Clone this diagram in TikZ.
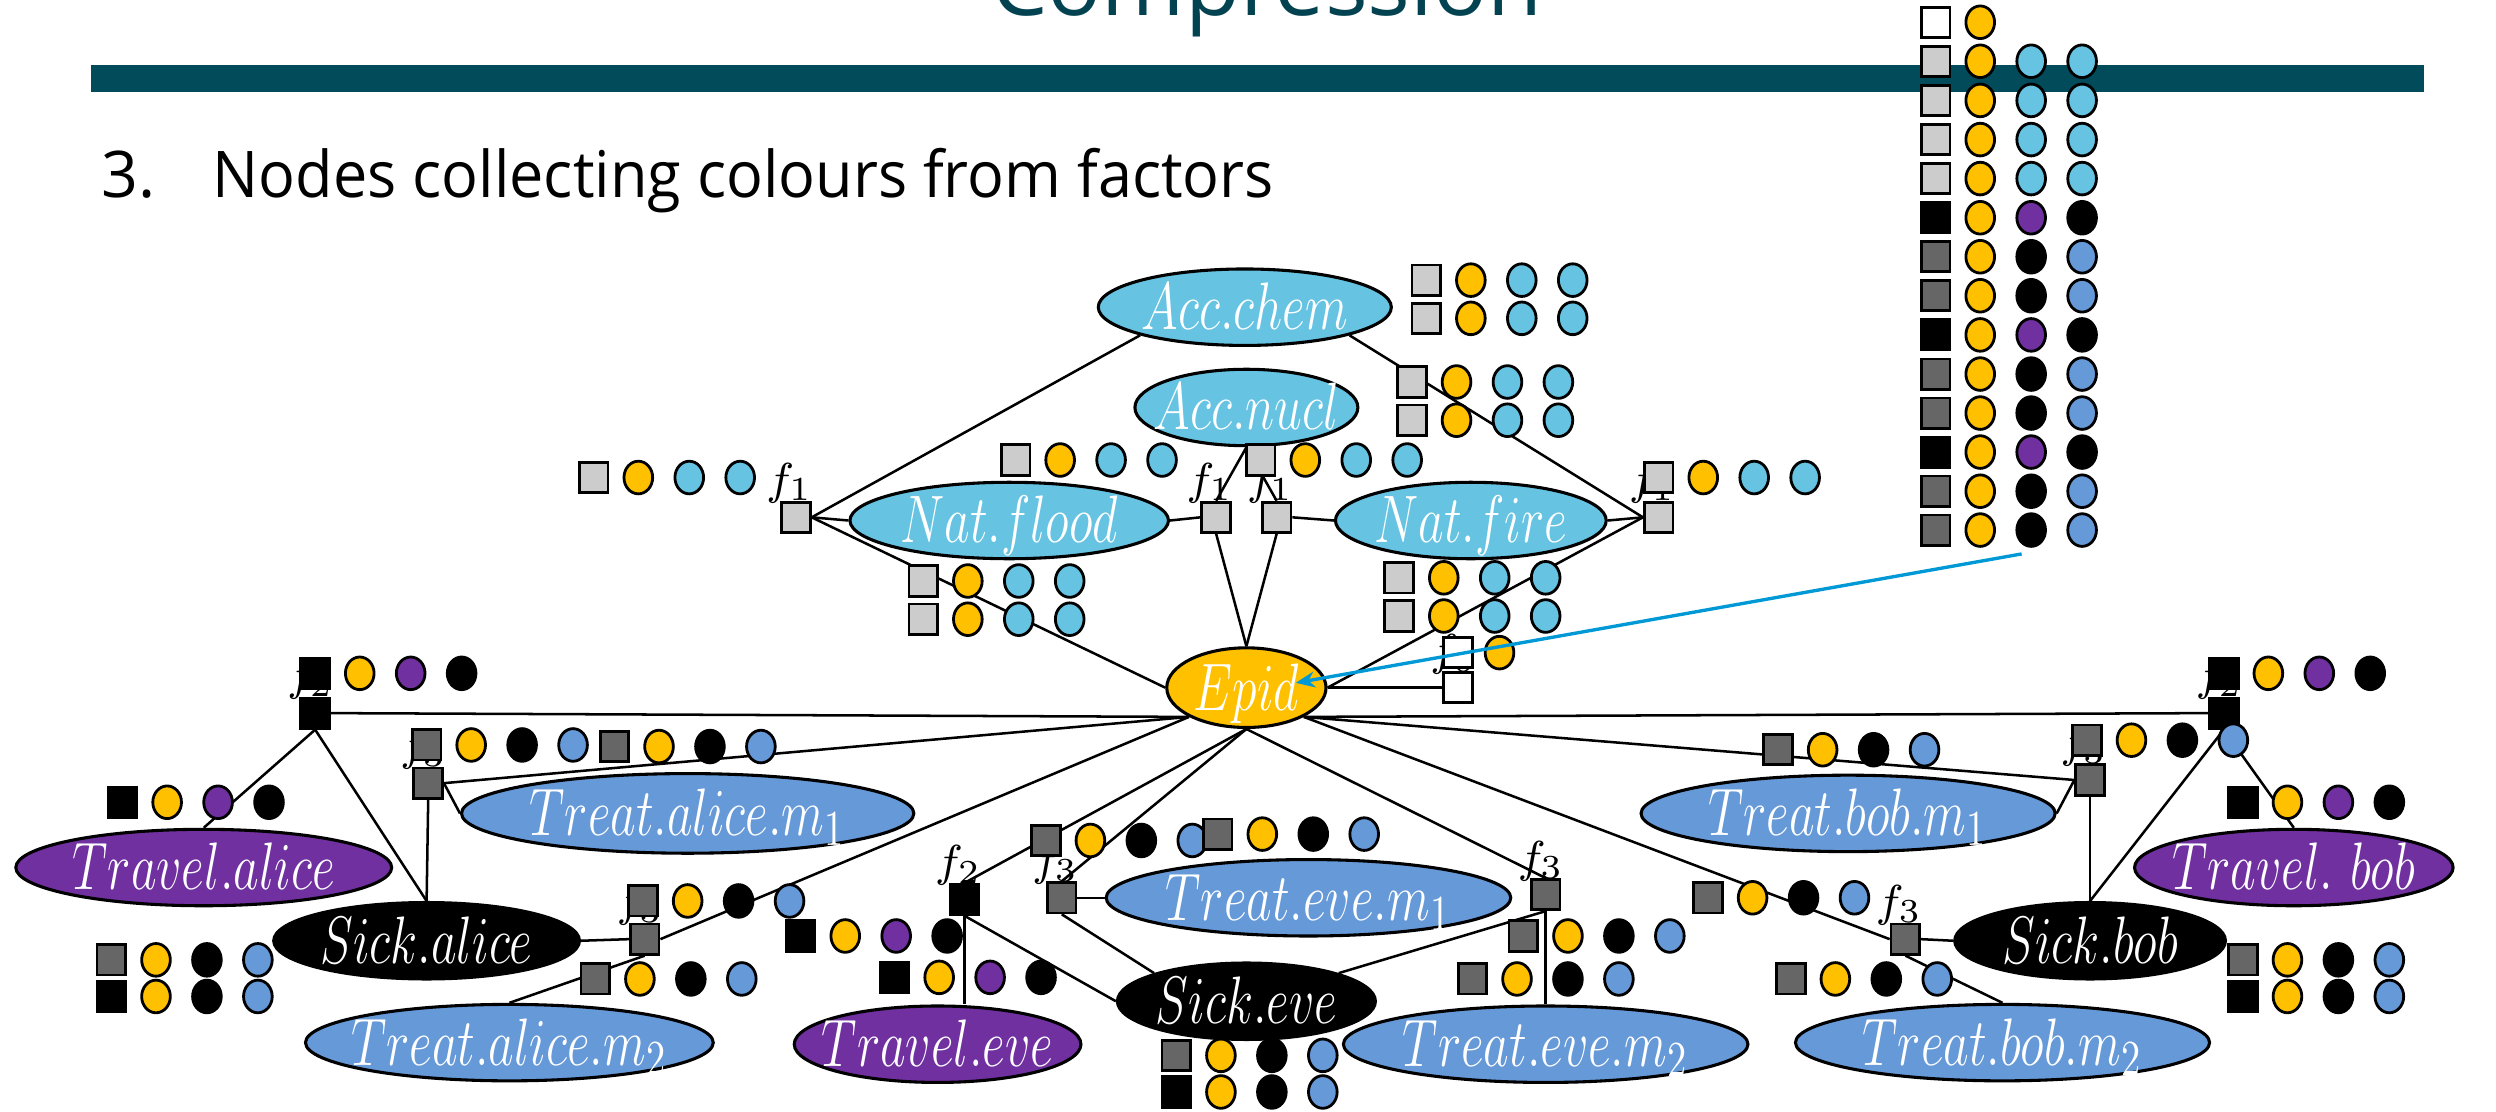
\documentclass[tikz,border=0pt]{standalone}
\usepackage{fontspec}
\setsansfont{Open Sans}
\usetikzlibrary{shapes.geometric,arrows.meta}

\definecolor{barteal}{RGB}{2,75,90}
\definecolor{titleteal}{RGB}{3,66,80}
\definecolor{clblue}{RGB}{102,195,226}
\definecolor{cgold}{RGB}{255,192,0}
\definecolor{cpurp}{RGB}{112,48,160}
\definecolor{cmblue}{RGB}{102,153,216}
\definecolor{clgray}{RGB}{204,204,204}
\definecolor{cdgray}{RGB}{102,102,102}
\definecolor{arrowblue}{RGB}{0,153,214}

% zero-size centred label text (tall, narrow italic), so the ellipse keeps its given size
\newcommand\ctext[1]{\makebox[0pt]{\smash{\raisebox{-0.32em}{\scalebox{0.74}[1]{$#1$}}}}}

% colour tokens: a square and circles, each a named node
\newcounter{tk}
\newcommand\tokq[3]{\stepcounter{tk}\node[tsq, fill=#3] (tk\arabic{tk}) at (#1,#2) {};}
\newcommand\tokc[3]{\stepcounter{tk}\node[tci, fill=#3] (tk\arabic{tk}) at (#1,#2) {};}
\newcommand\tokrow[6]{\tokq{#1}{#2}{#3}\tokc{#1+28}{#2}{#4}\tokc{#1+60}{#2}{#5}\tokc{#1+92}{#2}{#6}}

\tikzset{
  ell/.style={ellipse, draw=black, line width=0.55pt, inner sep=0pt, text=white,
    font=\fontsize{12.5}{14}\selectfont},
  fac/.style={draw=black, line width=0.5pt, minimum width=0.18cm, minimum height=0.19cm, inner sep=0pt},
  tsq/.style={draw=black, line width=0.5pt, minimum width=0.18cm, minimum height=0.19cm, inner sep=0pt},
  tci/.style={ellipse, draw=black, line width=0.5pt, minimum width=0.18cm, minimum height=0.205cm, inner sep=0pt},
  edge/.style={line width=0.45pt},
  flab/.style={anchor=south, inner sep=0pt, font=\fontsize{8}{9}\selectfont},
}

\begin{document}
\begin{tikzpicture}[x=0.01cm, y=-0.01cm]
\useasboundingbox (0,0) rectangle (1568,698);

% heading
\node[anchor=base west, inner sep=0pt, text=titleteal, font=\sffamily\fontsize{16}{19}\selectfont] (title) at (622,10) {Compression};
\fill[barteal] (57,41) rectangle (1523,58);
\node[anchor=base west, inner sep=0pt, font=\sffamily\fontsize{11.5}{14}\selectfont] (num) at (63,124) {3.};
\node[anchor=base west, inner sep=0pt, font=\sffamily\fontsize{11.5}{14}\selectfont] (sub) at (133,124) {\scalebox{0.95}[1]{Nodes collecting colours from factors}};

% variable nodes
\node[ell, fill=clblue, minimum width=1.84cm, minimum height=0.48cm] (acchem) at (782,193) {\ctext{Acc.chem}};
\node[ell, fill=clblue, minimum width=1.40cm, minimum height=0.48cm] (accnucl) at (783,256) {\ctext{Acc.nucl}};
\node[ell, fill=clblue, minimum width=2.00cm, minimum height=0.48cm] (natflood) at (634,327) {\ctext{Nat.flood}};
\node[ell, fill=clblue, minimum width=1.70cm, minimum height=0.48cm] (natfire) at (924,327) {\ctext{Nat.fire}};
\node[ell, fill=cgold, minimum width=1.00cm, minimum height=0.50cm] (epid) at (783,432) {\ctext{Epid}};

\node[ell, fill=cpurp, minimum width=2.36cm, minimum height=0.48cm] (travelalice) at (128,545) {\ctext{Travel.alice}};
\node[ell, fill=cmblue, minimum width=2.84cm, minimum height=0.50cm] (treatam1) at (432,511) {\ctext{Treat.alice.m_1}};
\node[ell, fill=black, minimum width=1.92cm, minimum height=0.48cm] (sickalice) at (268,591) {\ctext{Sick.alice}};
\node[ell, fill=cmblue, minimum width=2.56cm, minimum height=0.48cm] (treatam2) at (320,655) {\ctext{Treat.alice.m_2}};
\node[ell, fill=cpurp, minimum width=1.80cm, minimum height=0.48cm] (traveleve) at (589,656) {\ctext{Travel.eve}};
\node[ell, fill=black, minimum width=1.62cm, minimum height=0.48cm] (sickeve) at (783,629) {\ctext{Sick.eve}};
\node[ell, fill=cmblue, minimum width=2.54cm, minimum height=0.48cm] (treatem1) at (822,564) {\ctext{Treat.eve.m_1}};
\node[ell, fill=cmblue, minimum width=2.54cm, minimum height=0.48cm] (treatem2) at (971,656) {\ctext{Treat.eve.m_2}};
\node[ell, fill=cmblue, minimum width=2.60cm, minimum height=0.48cm] (treatbm1) at (1161,511) {\ctext{Treat.bob.m_1}};
\node[ell, fill=black, minimum width=1.70cm, minimum height=0.48cm] (sickbob) at (1313,591) {\ctext{Sick.bob}};
\node[ell, fill=cpurp, minimum width=2.00cm, minimum height=0.48cm] (travelbob) at (1441,545) {\ctext{Travel.\ bob}};
\node[ell, fill=cmblue, minimum width=2.60cm, minimum height=0.48cm] (treatbm2) at (1258,655) {\ctext{Treat.bob.m_2}};

% factor labels (drawn first, partly covered by tokens later)
\node[flab] (lf1a) at (496,317) {$f_1$};
\node[flab] (lf1b) at (760,317) {$f_1$};
\node[flab] (lf1c) at (798,317) {$f_1$};
\node[flab] (lf1d) at (1038,317) {$f_1$};
\node[flab] (lf0)  at (913,424) {$f_0$};
\node[flab] (lf2a) at (195,440) {$f_2$};
\node[flab] (lf3a) at (266,484) {$f_3$};
\node[flab] (lf3b) at (402,582) {$f_3$};
\node[flab] (lf2e) at (602,557) {$f_2$};
\node[flab] (lf3c) at (663,556) {$f_3$};
\node[flab] (lf3d) at (968,554) {$f_3$};
\node[flab] (lf3e) at (1309,482) {$f_3$};
\node[flab] (lf2b) at (1394,440) {$f_2$};
\node[flab] (lf3f) at (1193,582) {$f_3$};

% factor nodes
\node[fac, fill=clgray] (f1a) at (500,325) {};
\node[fac, fill=clgray] (f1b) at (764,325) {};
\node[fac, fill=clgray] (f1c) at (802,325) {};
\node[fac, fill=clgray] (f1d) at (1042,325) {};
\node[fac, fill=white]  (f0)  at (916,432) {};
\node[fac, fill=black]  (f2a) at (198,448) {};
\node[fac, fill=cdgray] (f3a) at (269,492) {};
\node[fac, fill=cdgray] (f3b) at (405,590) {};
\node[fac, fill=black]  (f2e) at (606,565) {};
\node[fac, fill=cdgray] (f3c) at (667,564) {};
\node[fac, fill=cdgray] (f3d) at (971,562) {};
\node[fac, fill=cdgray] (f3e) at (1313,490) {};
\node[fac, fill=black]  (f2b) at (1397,448) {};
\node[fac, fill=cdgray] (f3f) at (1197,590) {};

% factor-to-variable edges
\draw[edge] (f1a.east) -- (acchem.south west);
\draw[edge] (f1a.east) -- (natflood.west);
\draw[edge] (f1a.east) -- (epid.west);
\draw[edge] (f1b.west) -- (natflood.east);
\draw[edge] (f1b.north) -- (accnucl.south);
\draw[edge] (f1b.south) -- (epid.north);
\draw[edge] (f1c.north) -- (accnucl.south);
\draw[edge] (f1c.east) -- (natfire.west);
\draw[edge] (f1c.south) -- (epid.north);
\draw[edge] (f1d.west) -- (natfire.east);
\draw[edge] (f1d.west) -- (acchem.south east);
\draw[edge] (f1d.west) -- (epid.east);
\draw[edge] (f0.west) -- (epid.east);

\draw[edge] (f2a.east) -- (epid.south west);
\draw[edge] (f2a.south) -- (travelalice.north);
\draw[edge] (f2a.south) -- (sickalice.north);
\draw[edge] (f3a.east) -- (treatam1.west);
\draw[edge] (f3a.east) -- (epid.south west);
\draw[edge] (f3a.south) -- (sickalice.north);
\draw[edge] (sickalice.east) -- (f3b.west);
\draw[edge] (f3b.east) -- (epid.south west);
\draw[edge] (f3b.south) -- (treatam2.north);
\draw[edge] (f2e.north) -- (epid.south);
\draw[edge] (f2e.south) -- (f2e.south |- traveleve.north);
\draw[edge] (f2e.south) -- (sickeve.west);
\draw[edge] (f3c.east) -- (treatem1.west);
\draw[edge] (f3c.north) -- (epid.south);
\draw[edge] (f3c.south) -- (sickeve.north west);
\draw[edge] (f3d.north) -- (epid.south);
\draw[edge] (f3d.south) -- (sickeve.north east);
\draw[edge] (f3d.south) -- (treatem2.north);
\draw[edge] (f3e.west) -- (treatbm1.east);
\draw[edge] (f3e.west) -- (epid.south east);
\draw[edge] (f3e.south) -- (sickbob.north);
\draw[edge] (f2b.west) -- (epid.south east);
\draw[edge] (f2b.south) -- (sickbob.north);
\draw[edge] (f2b.south) -- (travelbob.north);
\draw[edge] (f3f.east) -- (sickbob.west);
\draw[edge] (f3f.west) -- (epid.south east);
\draw[edge] (f3f.south) -- (treatbm2.north);

% colour tokens of the upper factors
\tokrow{896}{176}{clgray}{cgold}{clblue}{clblue}
\tokrow{896}{200}{clgray}{cgold}{clblue}{clblue}
\tokrow{887}{240}{clgray}{cgold}{clblue}{clblue}
\tokrow{887}{264}{clgray}{cgold}{clblue}{clblue}
\tokrow{373}{300}{clgray}{cgold}{clblue}{clblue}
\tokrow{638}{289}{clgray}{cgold}{clblue}{clblue}
\tokrow{792}{289}{clgray}{cgold}{clblue}{clblue}
\tokrow{1042}{300}{clgray}{cgold}{clblue}{clblue}
\tokrow{580}{365}{clgray}{cgold}{clblue}{clblue}
\tokrow{580}{389}{clgray}{cgold}{clblue}{clblue}
\tokrow{879}{363}{clgray}{cgold}{clblue}{clblue}
\tokrow{879}{387}{clgray}{cgold}{clblue}{clblue}
\tokq{916}{410}{white}\tokc{942}{410}{cgold}

% colour tokens of the lower factors
\tokrow{198}{423}{black}{cgold}{cpurp}{black}
\tokrow{77}{504}{black}{cgold}{cpurp}{black}
\tokrow{268}{468}{cdgray}{cgold}{black}{cmblue}
\tokrow{386}{469}{cdgray}{cgold}{black}{cmblue}
\tokrow{70}{603}{cdgray}{cgold}{black}{cmblue}
\tokrow{70}{626}{black}{cgold}{black}{cmblue}
\tokrow{404}{566}{cdgray}{cgold}{black}{cmblue}
\tokrow{374}{615}{cdgray}{cgold}{black}{cmblue}
\tokrow{503}{588}{black}{cgold}{cpurp}{black}
\tokrow{562}{614}{black}{cgold}{cpurp}{black}
\tokrow{657}{528}{cdgray}{cgold}{black}{cmblue}
\tokrow{765}{524}{cdgray}{cgold}{black}{cmblue}
\tokrow{739}{663}{cdgray}{cgold}{black}{cmblue}
\tokrow{739}{686}{black}{cgold}{black}{cmblue}
\tokrow{957}{588}{cdgray}{cgold}{black}{cmblue}
\tokrow{925}{615}{cdgray}{cgold}{black}{cmblue}
\tokrow{1117}{471}{cdgray}{cgold}{black}{cmblue}
\tokrow{1311}{465}{cdgray}{cgold}{black}{cmblue}
\tokrow{1397}{423}{black}{cgold}{cpurp}{black}
\tokrow{1409}{504}{black}{cgold}{cpurp}{black}
\tokrow{1409}{603}{cdgray}{cgold}{black}{cmblue}
\tokrow{1409}{626}{black}{cgold}{black}{cmblue}
\tokrow{1073}{564}{cdgray}{cgold}{black}{cmblue}
\tokrow{1125}{615}{cdgray}{cgold}{black}{cmblue}

% collected colours of the Epid node
\tokq{1216}{14}{white}\tokc{1244}{14}{cgold}
\tokrow{1216}{38.5}{clgray}{cgold}{clblue}{clblue}
\tokrow{1216}{63.1}{clgray}{cgold}{clblue}{clblue}
\tokrow{1216}{87.7}{clgray}{cgold}{clblue}{clblue}
\tokrow{1216}{112.2}{clgray}{cgold}{clblue}{clblue}
\tokrow{1216}{136.8}{black}{cgold}{cpurp}{black}
\tokrow{1216}{161.3}{cdgray}{cgold}{black}{cmblue}
\tokrow{1216}{185.8}{cdgray}{cgold}{black}{cmblue}
\tokrow{1216}{210.4}{black}{cgold}{cpurp}{black}
\tokrow{1216}{235}{cdgray}{cgold}{black}{cmblue}
\tokrow{1216}{259.5}{cdgray}{cgold}{black}{cmblue}
\tokrow{1216}{284}{black}{cgold}{cpurp}{black}
\tokrow{1216}{308.6}{cdgray}{cgold}{black}{cmblue}
\tokrow{1216}{333}{cdgray}{cgold}{black}{cmblue}

% arrow from the collected colours to Epid
\coordinate (colsrc) at (1270,348);
\coordinate (colend) at (814,429);
\draw[arrowblue, line width=0.6pt, -{Stealth[length=0.12cm, width=0.1cm]}] (colsrc) -- (colend);
\end{tikzpicture}
\end{document}
